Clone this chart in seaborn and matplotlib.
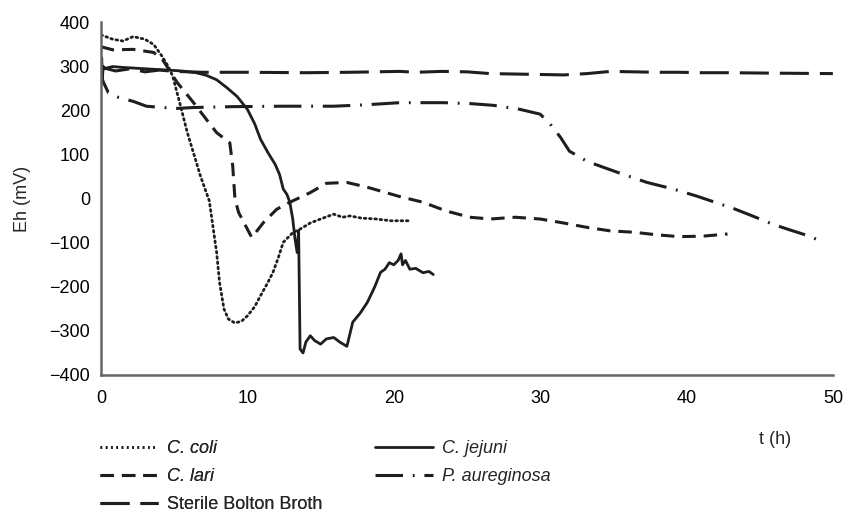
import numpy as np
import pandas as pd
import matplotlib
matplotlib.use("Agg")
import matplotlib.pyplot as plt
import seaborn as sns
from matplotlib.lines import Line2D

# Eh readings (mV), time in hours
coli_t = [0, 0.8, 1.5, 2.2, 3.0, 3.6, 4.2, 4.6, 4.9, 5.4, 5.9, 6.4, 6.8, 7.4, 7.9, 8.1, 8.4, 8.7,
          9.15, 9.6, 10.0, 10.5, 10.9, 11.4, 11.75, 12.1, 12.45, 13.1, 13.6, 14.3, 15.0, 15.9,
          16.5, 17.0, 17.8, 18.8, 19.8, 21.0]
coli_eh = [372, 362, 358, 368, 362, 350, 322, 300, 278, 215, 150, 95, 51, -5, -122, -190, -250, -273,
           -282, -278, -266, -245, -220, -190, -167, -135, -99, -77, -69, -55, -46, -35,
           -42, -39, -44, -46, -50, -50]

jejuni_t = [0, 0.05, 0.1, 0.15, 0.3, 0.8, 1.5, 2.5, 3.5, 4.5, 5.5, 6.5, 7.2, 7.9, 8.6, 9.3, 10.0,
            10.5, 10.9, 11.4, 11.9, 12.2, 12.45, 12.7, 12.9, 13.1, 13.25, 13.4, 13.5, 13.6, 13.8,
            14.0, 14.3, 14.6, 15.0, 15.4, 15.9, 16.3, 16.8, 17.2, 17.7, 18.2, 18.7, 19.1, 19.4,
            19.7, 20.0, 20.3, 20.5, 20.6, 20.8, 21.1, 21.5, 22.0, 22.4, 22.7]
jejuni_eh = [300, 320, 275, 300, 296, 300, 298, 296, 294, 292, 290, 286, 280, 270, 252, 232, 203,
             170, 135, 105, 78, 55, 22, 10, -8, -46, -90, -122, -72, -341, -350,
             -325, -311, -322, -330, -318, -315, -325, -335, -280, -260, -235, -200, -167, -160,
             -145, -150, -140, -125, -150, -140, -160, -158, -168, -165, -172]

lari_t = [0, 0.8, 2.2, 3.6, 4.2, 5.2, 6.3, 7.2, 7.9, 8.8, 9.0, 9.15, 9.4, 10.0, 10.3, 11.1, 12.0,
          12.9, 14.3, 15.4, 16.8, 18.2, 20.4, 22.0, 23.6, 25.2, 26.6, 28.3, 30.0, 31.6, 33.2,
          34.8, 36.4, 38.0, 39.5, 41.1, 42.8]
lari_eh = [345, 338, 339, 332, 316, 264, 219, 180, 150, 127, 74, 0, -31, -69, -88, -54, -24,
           -8, 14, 35, 37, 26, 5, -8, -28, -42, -46, -42, -46, -55, -65,
           -73, -76, -82, -86, -85, -80]

pae_t = [0, 0.1, 0.2, 0.5, 1.2, 2.2, 3.1, 4.2, 5.2, 6.3, 9.0, 12.4, 15.9, 18.0, 20.4, 23.4, 25.2,
         26.8, 28.6, 30.0, 30.7, 31.4, 32.0, 33.2, 34.1, 35.7, 37.3, 39.1, 40.7, 42.3, 43.2,
         44.5, 45.9, 46.9, 48.4, 49.3]
pae_eh = [300, 270, 262, 241, 230, 221, 210, 207, 205, 207, 209, 210, 210, 213, 218, 218, 216,
          212, 203, 192, 169, 139, 108, 85, 74, 55, 37, 22, 6, -12, -22,
          -39, -58, -69, -85, -98]

broth_t = [0, 0.3, 1.0, 2.0, 3.0, 4.0, 5.0, 7.0, 10.0, 14.0, 17.0, 20.4, 21.5, 23.3, 25.0, 26.6,
           28.3, 30.0, 31.6, 33.2, 34.8, 36.4, 38.0, 39.5, 41.1, 43.0, 46.0, 50.0]
broth_eh = [292, 296, 290, 295, 288, 292, 289, 287, 287, 286, 287, 289, 287, 289, 288, 284,
            283, 282, 281, 284, 289, 288, 287, 287, 286, 286, 285, 284]

x_ticks = [0, 10, 20, 30, 40, 50]
y_ticks = [-400, -300, -200, -100, 0, 100, 200, 300, 400]

sns.set_style("white")
plt.rcParams["font.family"] = ["Liberation Sans", "DejaVu Sans"]
fs = 13

fig = plt.figure(figsize=(8.43, 5.17), dpi=100)
ax = fig.add_axes([0.1198, 0.2747, 0.8682, 0.6818])

ink = "#1e1e1e"
styles = {
    "C. coli": dict(dashes=(0.6, 1.3), lw=2.0, dash_capstyle="round"),
    "C. jejuni": dict(dashes=(), lw=2.0),
    "C. lari": dict(dashes=(4.4, 2.6), lw=2.2),
    "P. aureginosa": dict(dashes=(9.0, 3.2, 0.6, 3.2), lw=2.2),
    "Sterile Bolton Broth": dict(dashes=(9.5, 3.6), lw=2.2),
}
series = {
    "Sterile Bolton Broth": (broth_t, broth_eh),
    "P. aureginosa": (pae_t, pae_eh),
    "C. lari": (lari_t, lari_eh),
    "C. coli": (coli_t, coli_eh),
    "C. jejuni": (jejuni_t, jejuni_eh),
}
for name, (t, eh) in series.items():
    df = pd.DataFrame({"t": t, "eh": eh})
    st = styles[name]
    line = sns.lineplot(data=df, x="t", y="eh", ax=ax, color=ink, lw=st["lw"],
                        sort=False, estimator=None).lines[-1]
    if st["dashes"]:
        line.set_dashes(st["dashes"])
    if "dash_capstyle" in st:
        line.set_dash_capstyle(st["dash_capstyle"])

ax.set_xlim(0, 50)
ax.set_ylim(-400, 400)
ax.set_xticks(x_ticks)
ax.set_yticks(y_ticks)
ax.set_yticklabels([str(v).replace("-", "\u2212") for v in y_ticks])
ax.set_xlabel("")
ax.set_ylabel("Eh (mV)", fontsize=fs, labelpad=13)
ax.tick_params(direction="inout", length=8, width=1.3, colors="#555555",
               labelsize=fs, labelcolor="black", pad=4)
ax.tick_params(axis="x", pad=7)
for side in ["top", "right"]:
    ax.spines[side].set_visible(False)
for side in ["left", "bottom"]:
    ax.spines[side].set_color("#666666")
    ax.spines[side].set_linewidth(1.8)

fig.text(775 / 843, 1 - 440 / 517, "t (h)", fontsize=fs, ha="center", va="center")

def handle(name):
    st = styles[name]
    h = Line2D([], [], color=ink, lw=st["lw"])
    if st["dashes"]:
        h.set_dashes(st["dashes"])
    return h

leg_font = {"style": "italic", "size": fs}
col1 = ["C. coli", "C. lari", "Sterile Bolton Broth"]
col2 = ["C. jejuni", "P. aureginosa"]
kw = dict(loc="upper left", frameon=False, prop=leg_font, handlelength=3.2,
          handletextpad=0.5, labelspacing=0.62, borderaxespad=0, borderpad=0)
leg1 = fig.legend([handle(n) for n in col1], col1, bbox_to_anchor=(100 / 843, 1 - 440 / 517), **kw)
leg1.get_texts()[2].set_fontstyle("normal")
leg2 = fig.legend([handle(n) for n in col2], col2, bbox_to_anchor=(375 / 843, 1 - 440 / 517), **kw)
fig.add_artist(leg1)

fig.savefig("out.png", dpi=100)
